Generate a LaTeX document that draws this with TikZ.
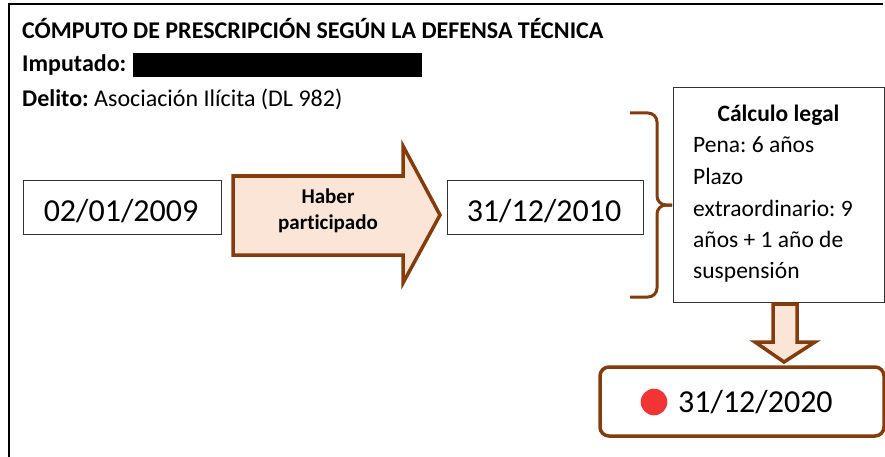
\documentclass[tikz,border=0pt]{standalone}
\usepackage{fontspec}
\setmainfont{Carlito}[Ligatures=NoCommon]
\definecolor{brn}{HTML}{843C0C}
\definecolor{peach}{HTML}{FBE5D6}
\definecolor{dotred}{HTML}{F33434}
\begin{document}
\frenchspacing
\begin{tikzpicture}[x=1pt,y=-1pt,
  datebox/.style={draw=black!80,line width=1pt,minimum width=198pt,minimum height=54pt,inner sep=0pt},
  datetxt/.style={anchor=base,inner sep=0pt,font=\fontsize{32}{36}\selectfont},
  brnline/.style={draw=brn,line width=3.5pt,line join=miter},
  lbl/.style={anchor=base west,inner sep=0pt,font=\fontsize{24}{28}\selectfont},
  calctxt/.style={anchor=base west,inner sep=0pt,font=\fontsize{23.5}{28}\selectfont},
  arrtxt/.style={anchor=base,inner sep=0pt,font=\fontsize{21}{25}\selectfont\bfseries}]
\useasboundingbox (0,0) rectangle (885,457);
% outer frame
\draw[line width=2.2pt] (9,457) -- (9,4) -- (883,4);
% header
\node[lbl] (title) at (22,39) {\bfseries CÓMPUTO DE PRESCRIPCIÓN SEGÚN LA DEFENSA TÉCNICA};
\node[lbl] (imp) at (22,72) {\bfseries Imputado:};
\fill (133,53) rectangle (422,77);
\node[lbl] (del) at (22,107) {\textbf{Delito:} Asociación Ilícita (DL 982)};
% date boxes
\node[datebox] (d1) at (122,207) {};
\node[datetxt] (d1t) at (121,221) {02/01/2009};
\node[datebox,minimum width=196pt] (d2) at (545,207) {};
\node[datetxt] (d2t) at (544,221.5) {31/12/2010};
% big arrow
\draw[brnline,fill=peach] (233,176) -- (403,176) -- (403,146) -- (440,215) -- (403,283) -- (403,255) -- (233,255) -- cycle;
\node[arrtxt] (a1) at (328,204) {Haber};
\node[arrtxt] (a2) at (328,229) {participado};
% brace
\draw[draw=brn,line width=3pt,rounded corners=9pt] (630,113) -- (657,113) -- (657,205) -- (672,205);
\draw[draw=brn,line width=3pt,rounded corners=9pt] (630,297) -- (657,297) -- (657,205) -- (672,205);
% calculation box
\node[draw=black!80,line width=1pt,minimum width=211pt,minimum height=214pt,inner sep=0pt] (calc) at (778.5,195) {};
\node[calctxt,anchor=base,font=\fontsize{23.5}{28}\selectfont\bfseries] (ct) at (778.5,121.5) {Cálculo legal};
\node[calctxt] (c1) at (693,153) {Pena: 6 años};
\node[calctxt] (c2) at (693,185) {Plazo};
\node[calctxt] (c3) at (693,216.5) {extraordinario: 9};
\node[calctxt] (c4) at (693,247) {años + 1 año de};
\node[calctxt] (c5) at (693,278) {suspensión};
% down arrow
\draw[brnline,fill=peach] (773,304) -- (797,304) -- (797,342) -- (815,342) -- (784,362) -- (755,342) -- (773,342) -- cycle;
% result box
\draw[brnline,rounded corners=9pt,fill=white] (600,367) rectangle (884,436);
\fill[dotred] (654,402) circle (13.3pt);
\node[datetxt,anchor=base west] (rt) at (678,412) {31/12/2020};
\end{tikzpicture}
\end{document}
